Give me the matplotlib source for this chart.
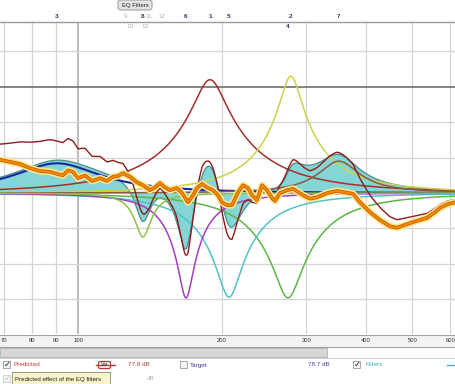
import numpy as np
import matplotlib
matplotlib.use("Agg")
import matplotlib.pyplot as plt
import matplotlib.patheffects as pe
import matplotlib.transforms as mtransforms
from matplotlib.patches import FancyBboxPatch, Rectangle

# ---------------- data ----------------
filter_ids   = [1, 2, 3, 4, 5, 6, 7, 8]
filter_freq  = [188.8, 278.6, 90.4, 274.8, 206.9, 168.2, 351.0, 136.7]
filter_gain  = [16.0, 16.5, 4.2, -14.8, -14.7, -14.8, 4.5, -6.2]
filter_q     = [2.95, 4.4, 1.92, 4.0, 4.6, 7.5, 4.0, 10.0]
filter_row   = [1, 1, 1, 2, 1, 1, 1, 1]
filter_color = ['#a3302c', '#cbd24a', '#16289a', '#5cb64a',
                '#52c2c8', '#a43ec4', '#8c5a3e', '#8fc244']

inactive_ids  = [9, 10, 11, 12, 13]
inactive_freq = [125.4, 128.5, 140.8, 149.8, 138.0]
inactive_row  = [1, 2, 1, 1, 2]

meas_freq = [68.7, 72.1, 75.6, 79.4, 83.3, 87.4, 90.4, 93.0, 95.3, 97.6,
             100.0, 103.4, 107.0, 111.2, 115.0, 118.3, 121.2, 124.2, 128.4, 132.9,
             136.7, 141.4, 144.9, 148.4, 152.0, 155.7, 161.0, 165.0, 169.8, 174.0,
             177.3, 181.7, 186.1, 191.5, 196.2, 200.0, 204.9, 209.9, 216.0, 221.3,
             226.7, 231.1, 236.7, 242.5, 248.4, 254.4, 258.1, 264.4, 273.5, 281.5,
             295.4, 305.4, 316.0, 331.6, 347.9, 361.5, 375.7, 388.6, 407.7, 427.8,
             449.0, 464.4, 482.6, 501.5, 518.7, 536.5, 557.6, 571.2, 590.7, 614.0]
meas_db = [4.7, 4.4, 4.1, 3.5, 3.1, 3.0, 2.7, 2.5, 3.2, 3.0,
           2.1, 2.5, 1.7, 2.1, 1.7, 2.3, 2.4, 2.8, 2.3, 1.5,
           1.1, 0.4, 0.8, 1.4, 0.8, 0.4, 0.7, 0.0, -1.3, -0.3,
           0.7, 1.3, 0.8, 0.4, -0.3, -1.3, -1.7, -1.7, 0.1, 1.1,
           0.7, -0.3, -1.0, 1.1, 0.4, -0.7, -1.1, 0.0, 0.4, 0.6,
           -0.3, -0.8, -0.6, 0.0, 0.3, 0.1, -0.1, -1.3, -2.7, -3.8,
           -4.7, -4.9, -4.5, -4.1, -3.8, -3.5, -2.7, -2.1, -1.6, -1.3]

xticks = [70, 80, 90, 100, 200, 300, 400, 500, 600]
ygrid_minor = [-15, -10, -5, 0, 5, 10, 20]
ygrid_ref = 15

legend_level_pred = "77.8 dB"
legend_level_target = "78.7 dB"

# ---------------- figure ----------------
W, H = 455, 384
fig = plt.figure(figsize=(W / 100, H / 100), dpi=100)
fig.patch.set_facecolor('white')
FONT = 'Liberation Sans'


def fx(x):
    return x / W


def fy(y):
    return 1 - y / H


ax = fig.add_axes([0, fy(334), 1, (334 - 22) / H])
ax.set_xscale('log')
ax.set_xlim(68.7, 614)
ax.set_ylim(-19.9, 24.15)
ax.set_facecolor('white')
for s in ['left', 'right', 'bottom']:
    ax.spines[s].set_visible(False)
ax.spines['top'].set_color('#9a9a9a')
ax.spines['top'].set_linewidth(1.0)
ax.set_xticks([])
ax.set_yticks([])
ax.minorticks_off()

for t in xticks:
    ax.axvline(t, color='#a8a8a8' if t == 100 else '#d4d4d4',
               lw=1.1 if t == 100 else 0.9, zorder=0)
for g in ygrid_minor:
    ax.axhline(g, color='#d4d4d4', lw=0.9, zorder=0)
ax.axhline(ygrid_ref, color='#6e6e6e', lw=1.2, zorder=0.5)


def peq_db(f, f0, g, q):
    A = 10 ** (g / 40.0)
    w = f / f0
    a = (1 - w ** 2) ** 2
    num = a + (w * A / q) ** 2
    den = a + (w / (A * q)) ** 2
    return 10 * np.log10(num / den)


freq = np.geomspace(60, 700, 3000)
total = np.zeros_like(freq)
for f0, g, q in zip(filter_freq, filter_gain, filter_q):
    total += peq_db(freq, f0, g, q)

# combined filter response (filled)
ax.fill_between(freq, 0, total, color='#84d5d6', lw=0, zorder=1)
ax.plot(freq, total, color='#4e8c8c', lw=0.9, zorder=1.5)

# individual filters
for f0, g, q, c in zip(filter_freq, filter_gain, filter_q, filter_color):
    ax.plot(freq, peq_db(freq, f0, g, q), color=c,
            lw=1.5 if c == '#16289a' else 1.1, zorder=3)

# predicted = measurement + filters
meas_on_grid = np.interp(np.log(freq), np.log(meas_freq), meas_db)
pred = meas_on_grid + total
ax.plot(freq, pred, color='#8c1c1c', lw=1.0, zorder=4)

# highlighted measurement trace
ax.plot(meas_freq, meas_db, color='#f58a00', lw=1.5, zorder=5,
        solid_joinstyle='round', solid_capstyle='round',
        path_effects=[pe.Stroke(linewidth=5.0, foreground='#ffe58a'),
                      pe.Stroke(linewidth=2.6, foreground='#b85a10'),
                      pe.Normal()])

# ---------- filter number labels along the top ----------
btrans = mtransforms.blended_transform_factory(ax.transData, fig.transFigure)
for fid, f0, row in zip(filter_ids, filter_freq, filter_row):
    fig.text(f0, fy(17 if row == 1 else 27), str(fid), transform=btrans,
             ha='center', va='center', fontsize=4.6, color='#2d2d8c',
             fontweight='bold', family=FONT)
for fid, f0, row in zip(inactive_ids, inactive_freq, inactive_row):
    fig.text(f0, fy(17 if row == 1 else 27), str(fid), transform=btrans,
             ha='center', va='center', fontsize=4.6, color='#b4b4b4',
             family=FONT)

# EQ Filters button
btn = FancyBboxPatch((fx(118), fy(10)), fx(34), 10 / H,
                     boxstyle='round,pad=0,rounding_size=0.006',
                     transform=fig.transFigure, facecolor='#e4e4e4',
                     edgecolor='#8c8c8c', lw=0.6)
fig.patches.append(btn)
fig.text(fx(135), fy(5), 'EQ Filters', ha='center', va='center',
         fontsize=4.3, color='#202020', family=FONT)

# ---------- x-axis band ----------
fig.patches.append(Rectangle((0, fy(347)), 1, 12 / H, transform=fig.transFigure,
                             facecolor='#f3f3f3', edgecolor='none'))
for yy in (335, 347):
    fig.add_artist(plt.Line2D([0, 1], [fy(yy), fy(yy)], transform=fig.transFigure,
                              color='#a4a4a4', lw=0.8))
for t in xticks:
    fig.text(t, fy(341), str(t), transform=btrans, ha='center', va='center',
             fontsize=4.2, color='#303030', family=FONT)

# scrollbar
fig.patches.append(Rectangle((0, fy(357)), fx(327), 9 / H, transform=fig.transFigure,
                             facecolor='#d8d8d8', edgecolor='#b0b0b0', lw=0.6))
fig.add_artist(plt.Line2D([0, 1], [fy(357.5), fy(357.5)], transform=fig.transFigure,
                          color='#c8c8c8', lw=0.6))

# ---------- legend row ----------


def checkbox(x, y, checked=True, grey=False):
    fig.patches.append(Rectangle((fx(x), fy(y + 7)), 7 / W, 7 / H,
                                 transform=fig.transFigure, facecolor='#f4f4f4',
                                 edgecolor='#9a9a9a' if not grey else '#c8c8c8',
                                 lw=0.6))
    if checked:
        fig.text(fx(x + 3.8), fy(y + 3.2), '\u2713', ha='center', va='center',
                 fontsize=6, color='#c0c0c0' if grey else '#202020',
                 family='DejaVu Sans', fontweight='bold')


checkbox(3, 361)
fig.text(fx(14), fy(365), 'Predicted', ha='left', va='center', fontsize=4.6,
         color='#c23a3a', family=FONT)
fig.add_artist(plt.Line2D([fx(96), fx(115)], [fy(365), fy(365)],
                          transform=fig.transFigure, color='#d03030', lw=1.0))
vb = FancyBboxPatch((fx(98.5), fy(368.5)), 12 / W, 7 / H,
                    boxstyle='round,pad=0,rounding_size=0.004',
                    transform=fig.transFigure, facecolor='white',
                    edgecolor='#d03030', lw=0.9)
fig.patches.append(vb)
fig.text(fx(104.5), fy(365), 'Var', ha='center', va='center', fontsize=3.6,
         color='#202020', family=FONT)
fig.text(fx(128), fy(365), legend_level_pred, ha='left', va='center',
         fontsize=4.6, color='#c23a3a', family=FONT)
checkbox(180, 361, checked=False)
fig.text(fx(190), fy(365), 'Target', ha='left', va='center', fontsize=4.6,
         color='#3a3a96', family=FONT)
fig.text(fx(308), fy(365), legend_level_target, ha='left', va='center',
         fontsize=4.6, color='#4a4aa0', family=FONT)
checkbox(353, 361)
fig.text(fx(365), fy(365), 'Filters', ha='left', va='center', fontsize=4.6,
         color='#3cb4b4', family=FONT)
fig.add_artist(plt.Line2D([fx(447), fx(455)], [fy(365), fy(365)],
                          transform=fig.transFigure, color='#3cb4c0', lw=1.0))

# second row (greyed) + tooltip
checkbox(3, 375, checked=True, grey=True)
fig.text(fx(147), fy(379), 'dB', ha='left', va='center', fontsize=4.4,
         color='#b0b0b0', family=FONT)
tip = Rectangle((fx(12), fy(386)), 98 / W, 14 / H, transform=fig.transFigure,
                facecolor='#f7f5c9', edgecolor='#8a8a70', lw=0.6)
fig.patches.append(tip)
fig.text(fx(15), fy(379), 'Predicted effect of the EQ filters', ha='left',
         va='center', fontsize=4.4, color='#202020', family=FONT)

fig.savefig('out.png', dpi=100, facecolor='white')
